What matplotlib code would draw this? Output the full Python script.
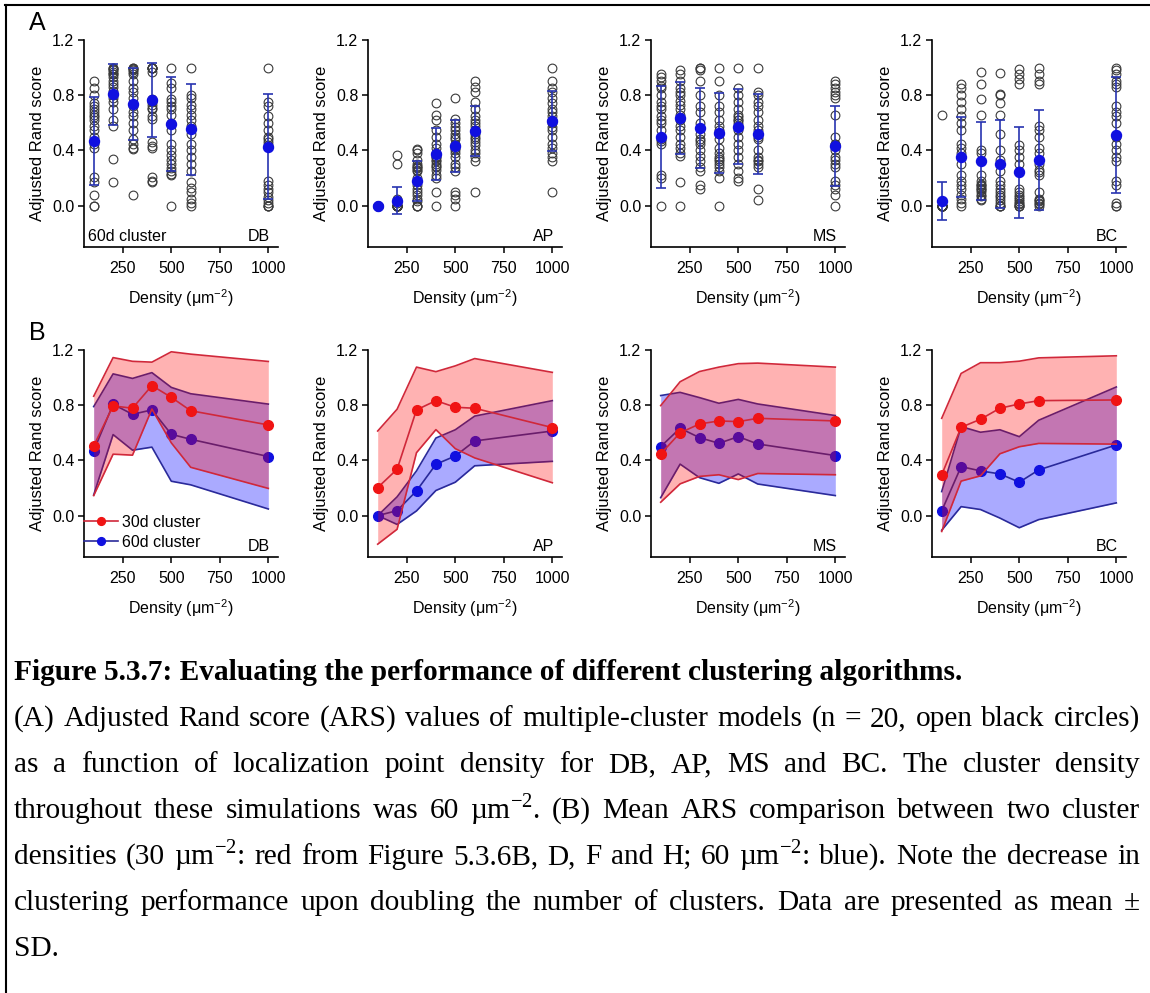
import numpy as np
import matplotlib.pyplot as plt
from matplotlib.lines import Line2D
from matplotlib.ticker import FormatStrFormatter

plt.rcParams['font.family'] = ['Liberation Sans', 'DejaVu Sans']

density = [100, 200, 300, 400, 500, 600, 1000]
methods = ['DB', 'AP', 'MS', 'BC']

# panel A: ARS of each of the 20 models (60d cluster), one list per density
db_points = [
    [0.90, 0.85, 0.80, 0.74, 0.72, 0.70, 0.68, 0.66, 0.64, 0.62, 0.58, 0.55, 0.50, 0.45, 0.42, 0.21, 0.17, 0.08, 0.0, 0.0],
    [1.0, 1.0, 0.99, 0.98, 0.97, 0.95, 0.93, 0.90, 0.88, 0.86, 0.83, 0.80, 0.78, 0.75, 0.70, 0.62, 0.58, 0.34, 0.17, 0.95],
    [1.0, 1.0, 0.99, 0.98, 0.97, 0.95, 0.90, 0.85, 0.82, 0.78, 0.72, 0.68, 0.65, 0.60, 0.55, 0.48, 0.45, 0.42, 0.41, 0.08],
    [1.0, 1.0, 1.0, 1.0, 1.0, 0.97, 0.77, 0.76, 0.75, 0.73, 0.71, 0.70, 0.65, 0.63, 0.46, 0.43, 0.42, 0.21, 0.18, 0.17],
    [1.0, 0.89, 0.85, 0.77, 0.75, 0.72, 0.70, 0.66, 0.60, 0.55, 0.45, 0.40, 0.37, 0.33, 0.30, 0.27, 0.25, 0.23, 0.22, 0.0],
    [1.0, 0.80, 0.78, 0.73, 0.70, 0.66, 0.62, 0.58, 0.52, 0.45, 0.40, 0.35, 0.30, 0.25, 0.17, 0.13, 0.10, 0.05, 0.02, 0.0],
    [1.0, 0.75, 0.72, 0.65, 0.60, 0.55, 0.50, 0.48, 0.46, 0.44, 0.18, 0.15, 0.12, 0.10, 0.06, 0.04, 0.02, 0.0, 0.0, 0.0],
]
ap_points = [
    [0.0] * 20,
    [0.37, 0.30, 0.05, 0.02] + [0.0] * 16,
    [0.41, 0.40, 0.38, 0.33, 0.30, 0.29, 0.28, 0.27, 0.26, 0.25, 0.20, 0.15, 0.12, 0.10, 0.08, 0.05, 0.03, 0.0, 0.0, 0.0],
    [0.74, 0.66, 0.62, 0.55, 0.50, 0.45, 0.42, 0.38, 0.35, 0.33, 0.32, 0.30, 0.29, 0.28, 0.26, 0.22, 0.20, 0.10, 0.0, 0.35],
    [0.78, 0.63, 0.60, 0.57, 0.55, 0.52, 0.50, 0.48, 0.45, 0.40, 0.38, 0.35, 0.30, 0.28, 0.25, 0.10, 0.08, 0.05, 0.0, 0.42],
    [0.90, 0.86, 0.82, 0.75, 0.70, 0.65, 0.62, 0.60, 0.58, 0.55, 0.52, 0.50, 0.48, 0.46, 0.44, 0.40, 0.38, 0.35, 0.32, 0.10],
    [1.0, 0.90, 0.85, 0.82, 0.78, 0.74, 0.70, 0.68, 0.65, 0.62, 0.60, 0.57, 0.55, 0.50, 0.45, 0.42, 0.38, 0.35, 0.32, 0.10],
]
ms_points = [
    [0.95, 0.93, 0.90, 0.87, 0.85, 0.80, 0.75, 0.72, 0.70, 0.65, 0.60, 0.55, 0.48, 0.47, 0.45, 0.22, 0.20, 0.0, 0.50, 0.62],
    [0.98, 0.95, 0.90, 0.85, 0.82, 0.80, 0.76, 0.73, 0.70, 0.66, 0.62, 0.58, 0.55, 0.50, 0.45, 0.42, 0.38, 0.36, 0.17, 0.0],
    [1.0, 1.0, 0.98, 0.90, 0.80, 0.72, 0.68, 0.60, 0.56, 0.52, 0.47, 0.45, 0.40, 0.36, 0.32, 0.28, 0.25, 0.15, 0.12, 0.48],
    [1.0, 0.90, 0.80, 0.72, 0.68, 0.62, 0.58, 0.55, 0.52, 0.48, 0.42, 0.38, 0.34, 0.32, 0.30, 0.28, 0.25, 0.20, 0.0, 0.35],
    [1.0, 0.85, 0.80, 0.75, 0.70, 0.66, 0.64, 0.62, 0.60, 0.58, 0.55, 0.50, 0.45, 0.40, 0.35, 0.30, 0.25, 0.20, 0.18, 0.62],
    [1.0, 0.82, 0.80, 0.75, 0.72, 0.68, 0.62, 0.58, 0.55, 0.52, 0.48, 0.40, 0.35, 0.33, 0.32, 0.30, 0.28, 0.12, 0.04, 0.50],
    [0.90, 0.88, 0.85, 0.82, 0.80, 0.78, 0.66, 0.50, 0.45, 0.40, 0.35, 0.33, 0.30, 0.28, 0.18, 0.15, 0.12, 0.08, 0.0, 0.45],
]
bc_points = [
    [0.66] + [0.0] * 19,
    [0.88, 0.85, 0.80, 0.75, 0.70, 0.65, 0.60, 0.55, 0.45, 0.42, 0.38, 0.30, 0.22, 0.18, 0.15, 0.12, 0.08, 0.05, 0.02, 0.0],
    [0.97, 0.88, 0.77, 0.66, 0.40, 0.38, 0.32, 0.22, 0.18, 0.16, 0.15, 0.14, 0.13, 0.12, 0.11, 0.10, 0.08, 0.07, 0.05, 0.04],
    [0.96, 0.81, 0.80, 0.74, 0.66, 0.52, 0.40, 0.33, 0.25, 0.18, 0.15, 0.12, 0.10, 0.08, 0.06, 0.04, 0.02, 0.0, 0.0, 0.0],
    [0.99, 0.95, 0.92, 0.88, 0.44, 0.40, 0.35, 0.30, 0.25, 0.12, 0.10, 0.08, 0.06, 0.05, 0.03, 0.02, 0.01, 0.0, 0.0, 0.0],
    [1.0, 0.95, 0.90, 0.88, 0.58, 0.55, 0.50, 0.42, 0.38, 0.30, 0.26, 0.24, 0.22, 0.10, 0.05, 0.04, 0.03, 0.02, 0.01, 0.0],
    [1.0, 0.98, 0.95, 0.90, 0.88, 0.86, 0.72, 0.68, 0.65, 0.60, 0.50, 0.45, 0.40, 0.35, 0.32, 0.18, 0.15, 0.02, 0.0, 0.0],
]

# mean and SD, 60d cluster (blue) and 30d cluster (red)
db60_mean = [0.47, 0.807, 0.734, 0.766, 0.589, 0.553, 0.428]
db60_sd = [0.32, 0.22, 0.26, 0.27, 0.34, 0.33, 0.38]
db30_mean = [0.505, 0.795, 0.778, 0.942, 0.857, 0.76, 0.657]
db30_sd = [0.36, 0.35, 0.34, 0.17, 0.33, 0.41, 0.46]
ap60_mean = [0.0, 0.036, 0.179, 0.372, 0.432, 0.541, 0.613]
ap60_sd = [0.0, 0.10, 0.145, 0.19, 0.19, 0.18, 0.22]
ap30_mean = [0.203, 0.336, 0.766, 0.833, 0.785, 0.778, 0.638]
ap30_sd = [0.41, 0.435, 0.31, 0.21, 0.30, 0.36, 0.40]
ms60_mean = [0.50, 0.633, 0.565, 0.524, 0.572, 0.519, 0.435]
ms60_sd = [0.37, 0.26, 0.29, 0.29, 0.27, 0.29, 0.29]
ms30_mean = [0.447, 0.60, 0.664, 0.686, 0.681, 0.705, 0.686]
ms30_sd = [0.35, 0.37, 0.38, 0.39, 0.42, 0.40, 0.39]
bc60_mean = [0.034, 0.355, 0.324, 0.302, 0.242, 0.331, 0.512]
bc60_sd = [0.14, 0.29, 0.28, 0.32, 0.33, 0.36, 0.42]
bc30_mean = [0.295, 0.64, 0.698, 0.778, 0.809, 0.833, 0.838]
bc30_sd = [0.41, 0.39, 0.41, 0.33, 0.31, 0.31, 0.32]

points = [db_points, ap_points, ms_points, bc_points]
means60 = [db60_mean, ap60_mean, ms60_mean, bc60_mean]
sds60 = [db60_sd, ap60_sd, ms60_sd, bc60_sd]
means30 = [db30_mean, ap30_mean, ms30_mean, bc30_mean]
sds30 = [db30_sd, ap30_sd, ms30_sd, bc30_sd]

W, H = 1150, 993
fig = plt.figure(figsize=(W / 100, H / 100), dpi=100)

lefts = [84, 368, 651, 932]
axw = 194

def make_ax(left, top, bottom):
    ax = fig.add_axes([left / W, 1 - bottom / H, axw / W, (bottom - top) / H])
    ax.set_xlim(50, 1050)
    ax.set_ylim(-0.3, 1.2)
    ax.spines[['top', 'right']].set_visible(False)
    ax.spines[['left', 'bottom']].set_linewidth(1.2)
    ax.set_xticks([250, 500, 750, 1000])
    ax.set_yticks([0.0, 0.4, 0.8, 1.2])
    ax.yaxis.set_major_formatter(FormatStrFormatter('%.1f'))
    ax.tick_params(direction='out', length=4, width=1.1, labelsize=11.5, pad=3)
    ax.tick_params(axis='x', pad=6)
    ax.set_ylabel('Adjusted Rand score', fontsize=12, labelpad=5)
    ax.set_xlabel('Density (μm$^{\\mathregular{-2}}$)', fontsize=11.5, labelpad=8)
    ax.patch.set_alpha(0)
    return ax

blue_dot = '#1010e0'
blue_line = '#2a2a9a'
red_line = '#d0283a'
red_dot = '#f01414'

# row A
for i, m in enumerate(methods):
    ax = make_ax(lefts[i], 40, 247)
    for d, pts in zip(density, points[i]):
        ax.plot([d] * len(pts), pts, 'o', mfc='none', mec='#3a3a3a', mew=0.8, ms=6.3, zorder=2)
    ax.errorbar(density, means60[i], yerr=sds60[i], fmt='o', ms=7.2, mfc=blue_dot, mec=blue_dot,
                ecolor='#2834b0', elinewidth=1.2, capsize=3.5, capthick=1.2, zorder=3)
    ax.text(0.96, 0.015, m, transform=ax.transAxes, ha='right', va='bottom', fontsize=11.5)
    if i == 0:
        ax.text(0.02, 0.015, '60d cluster', transform=ax.transAxes, ha='left', va='bottom', fontsize=11.5)

# row B
for i, m in enumerate(methods):
    ax = make_ax(lefts[i], 350, 557)
    m60 = np.array(means60[i]); s60 = np.array(sds60[i])
    m30 = np.array(means30[i]); s30 = np.array(sds30[i])
    ax.fill_between(density, m60 - s60, m60 + s60, color='#aaaaff', lw=0, zorder=1)
    ax.plot(density, m60 + s60, color=blue_line, lw=1.2, zorder=2)
    ax.plot(density, m60 - s60, color=blue_line, lw=1.2, zorder=2)
    h60, = ax.plot(density, m60, '-o', color=blue_line, mfc=blue_dot, mec=blue_dot, ms=7, lw=1.2, zorder=2)
    ax.fill_between(density, m30 - s30, m30 + s30, color='red', alpha=0.3, lw=0, zorder=3)
    ax.plot(density, m30 + s30, color=red_line, lw=1.2, zorder=4)
    ax.plot(density, m30 - s30, color=red_line, lw=1.2, zorder=4)
    h30, = ax.plot(density, m30, '-o', color=red_line, mfc=red_dot, mec=red_dot, ms=7, lw=1.2, zorder=4)
    ax.text(0.96, 0.015, m, transform=ax.transAxes, ha='right', va='bottom', fontsize=11.5)
    if i == 0:
        ax.legend([h30, h60], ['30d cluster', '60d cluster'], loc='lower left', frameon=False,
                  bbox_to_anchor=(0.0, 0.035), borderaxespad=0, borderpad=0, handlelength=2.1,
                  handletextpad=0.3, labelspacing=0.3, fontsize=11.5, markerscale=0.8)

fig.text(37 / W, 1 - 23 / H, 'A', ha='center', va='center', fontsize=18)
fig.text(37 / W, 1 - 333 / H, 'B', ha='center', va='center', fontsize=18)

# frame
fig.add_artist(Line2D([5 / W, 1.0], [1 - 5 / H, 1 - 5 / H], color='black', lw=1.5, transform=fig.transFigure))
fig.add_artist(Line2D([6 / W, 6 / W], [0, 1 - 5 / H], color='black', lw=1.5, transform=fig.transFigure))

# caption
serif = ['Liberation Serif', 'DejaVu Serif']
rend = fig.canvas.get_renderer()

def text_w(s, **kw):
    t = fig.text(0, 0, s, **kw)
    w = t.get_window_extent(renderer=rend).width
    t.remove()
    return w

title = 'Figure 5.3.7: Evaluating the performance of different clustering algorithms.'
body = [
    '(A) Adjusted Rand score (ARS) values of multiple-cluster models (n = 20, open black circles)',
    'as a function of localization point density for DB, AP, MS and BC. The cluster density',
    'throughout these simulations was 60 µm$^{\\mathregular{-2}}$. (B) Mean ARS comparison between two cluster',
    'densities (30 µm$^{\\mathregular{-2}}$: red from Figure 5.3.6B, D, F and H; 60 µm$^{\\mathregular{-2}}$: blue). Note the decrease in',
    'clustering performance upon doubling the number of clusters. Data are presented as mean ±',
    'SD.',
]
x0, x1 = 14, 1140
title_end = 966
w10 = text_w(title, fontsize=10, fontweight='bold', family=serif)
tsize = 10 * (title_end - x0) / w10

bsize = tsize
for line in body[:-1]:
    words = line.split(' ')
    nat = sum(text_w(w, fontsize=10, family=serif) for w in words) + (len(words) - 1) * 0.25 * 10 * 100 / 72
    bsize = min(bsize, 10 * (x1 - x0) * 0.98 / nat)

fig.text(x0 / W, 1 - 680 / H, title, fontsize=tsize, fontweight='bold', family=serif, va='baseline')
for k, line in enumerate(body):
    yb = 1 - (726 + 46 * k) / H
    words = line.split(' ')
    ws = [text_w(w, fontsize=bsize, family=serif) for w in words]
    if k < len(body) - 1:
        gap = (x1 - x0 - sum(ws)) / (len(words) - 1)
    else:
        gap = 0.25 * bsize * 100 / 72
    x = x0
    for w, wd in zip(words, ws):
        fig.text(x / W, yb, w, fontsize=bsize, family=serif, va='baseline')
        x += wd + gap

fig.savefig('out.png', dpi=100)
